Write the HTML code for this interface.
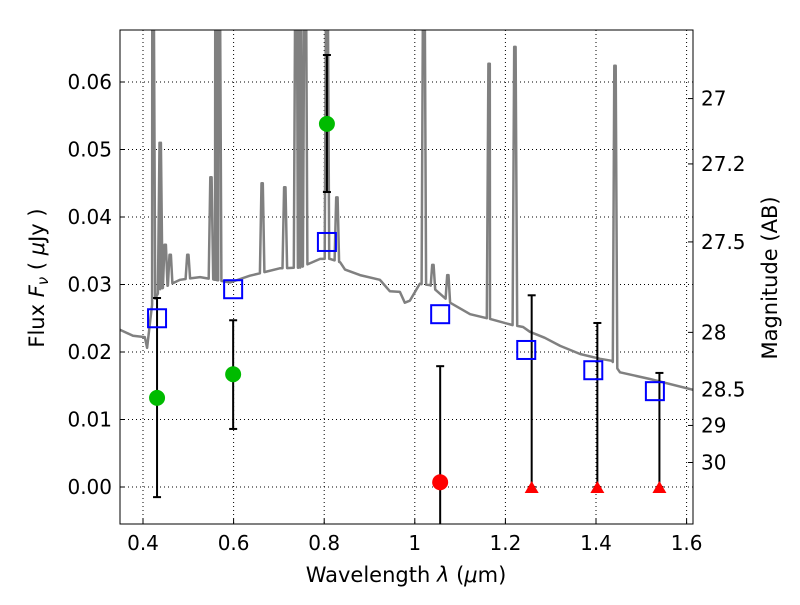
<!DOCTYPE html>
<html><head><meta charset="utf-8"><style>
body{margin:0;background:#fff}
svg{font-family:"DejaVu Sans","Liberation Sans",sans-serif}
</style></head><body>
<svg id="c" width="800" height="600" xmlns="http://www.w3.org/2000/svg"></svg>
<script>
const contLam=[0.349,0.378,0.404,0.409,0.420,0.438,0.482,0.526,0.559,0.592,0.636,0.702,0.747,0.791,0.813,0.835,0.846,0.879,0.923,0.945,0.967,0.978,0.989,1.011,1.034,1.078,1.122,1.166,1.215,1.239,1.254,1.287,1.321,1.365,1.409,1.435,1.453,1.519,1.614,1.63];
const contFlux=[0.0233,0.0224,0.0222,0.0206,0.027,0.0293,0.0307,0.0311,0.0307,0.0303,0.0313,0.0324,0.0325,0.0338,0.0338,0.0333,0.0322,0.0314,0.0307,0.0290,0.0289,0.0273,0.0276,0.0301,0.0299,0.0273,0.0256,0.0249,0.0240,0.0237,0.0230,0.0221,0.0209,0.0197,0.0190,0.0187,0.0170,0.0160,0.0144,0.0142];
const lineLam=[0.422,0.438,0.449,0.460,0.499,0.550,0.561,0.568,0.663,0.713,0.738,0.747,0.758,0.806,0.828,1.020,1.040,1.073,1.164,1.221,1.442];
const linePeak=[0.08,0.0510,0.0359,0.0344,0.0344,0.0459,0.08,0.08,0.0450,0.0444,0.08,0.08,0.08,0.08,0.0429,0.08,0.0329,0.0314,0.0627,0.0652,0.0624];
const modelLam=[0.431,0.599,0.806,1.056,1.246,1.394,1.530];
const modelFlux=[0.0250,0.0293,0.0363,0.0256,0.0203,0.0173,0.0142];
const detLam=[0.431,0.599,0.806];
const detFlux=[0.0132,0.0167,0.0538];
const detHi=[0.0280,0.0247,0.0640];
const detLo=[-0.0015,0.0086,0.0437];
const redLam=[1.056];const redFlux=[0.0007];const redHi=[0.0179];const redLo=[-0.017];
const limLam=[1.258,1.403,1.540];const limFlux=[0,0,0];const limHi=[0.0284,0.0243,0.0169];
const yTicks=[0,0.01,0.02,0.03,0.04,0.05,0.06];
const xTicks=[0.4,0.6,0.8,1.0,1.2,1.4,1.6];
const xTickLabels=["0.4","0.6","0.8","1","1.2","1.4","1.6"];
const magTicks=[27,27.2,27.5,28,28.5,29,30];

const L=120,R=693,T=30,B=524;
const X=v=>143+(v-0.4)*453;
const Y=v=>487-v*6750;
const svg=document.getElementById('c');
const NS="http://www.w3.org/2000/svg";
function el(tag,attrs,parent){const e=document.createElementNS(NS,tag);for(const k in attrs)e.setAttribute(k,attrs[k]);(parent||svg).appendChild(e);return e;}
const defs=el('defs',{});
const cp=el('clipPath',{id:'pc'},defs);el('rect',{x:L,y:T,width:R-L,height:B-T},cp);
xTicks.forEach((t,i)=>{const g=el('line',{x1:X(t),x2:X(t),y1:T,y2:B,stroke:'#000','stroke-dasharray':'1,3','stroke-width':1});

const tk=el('line',{x1:X(t),x2:X(t),y1:B,y2:B-5,stroke:'#000'});
const tx=el('text',{x:X(t),y:550,'font-size':20,'text-anchor':'middle'});tx.textContent=xTickLabels[i];
});
yTicks.forEach(t=>{const g=el('line',{x1:L,x2:R,y1:Y(t),y2:Y(t),stroke:'#000','stroke-dasharray':'1,3','stroke-width':1});

const tk=el('line',{x1:L,x2:L+5,y1:Y(t),y2:Y(t),stroke:'#000'});
const tx=el('text',{x:112,y:Y(t)+7,'font-size':20,'text-anchor':'end'});tx.textContent=t.toFixed(2);
});
magTicks.forEach(m=>{const f=Math.pow(10,(23.9-m)/2.5);const y=Y(f);
const tk=el('line',{x1:R,x2:R-5,y1:y,y2:y,stroke:'#000'});
const tx=el('text',{x:701,y:y+7,'font-size':20});tx.textContent=String(m);
});
const pts=contLam.map((l,i)=>[l,contFlux[i]]);
function contAt(l){for(let i=0;i<contLam.length-1;i++){if(l>=contLam[i]&&l<=contLam[i+1]){const t=(l-contLam[i])/(contLam[i+1]-contLam[i]);return contFlux[i]+t*(contFlux[i+1]-contFlux[i]);}}return contFlux[contFlux.length-1];}
lineLam.forEach((l,i)=>{pts.push([l-0.005,contAt(l-0.005)]);pts.push([l-0.0015,linePeak[i]]);pts.push([l+0.0015,linePeak[i]]);pts.push([l+0.005,contAt(l+0.005)]);});
pts.sort((a,b)=>a[0]-b[0]);
const sp=el('path',{d:'M'+pts.map(p=>X(p[0]).toFixed(1)+','+Y(p[1]).toFixed(1)).join('L'),fill:'none',stroke:'#808080','stroke-width':2.5,'stroke-linejoin':'round','clip-path':'url(#pc)'});

const gp=el('g',{'clip-path':'url(#pc)'});
function err(l,hi,lo,name){const x=X(l);const a=el('line',{x1:x,x2:x,y1:Y(hi),y2:Y(lo),stroke:'#000','stroke-width':2},gp);
[hi,lo].forEach(v=>{const c=el('line',{x1:x-4,x2:x+4,y1:Y(v),y2:Y(v),stroke:'#000','stroke-width':2},gp);});}
detLam.forEach((l,i)=>err(l,detHi[i],detLo[i],'error-bar'));
redLam.forEach((l,i)=>err(l,redHi[i],redLo[i],'error-bar'));
limLam.forEach((l,i)=>err(l,limHi[i],limFlux[i],'upper-limit-bar'));
modelLam.forEach((l,i)=>{const r=el('rect',{x:X(l)-9,y:Y(modelFlux[i])-9,width:18,height:18,fill:'none',stroke:'#0000ff','stroke-width':2},gp);
});
detLam.forEach((l,i)=>{const c=el('circle',{cx:X(l),cy:Y(detFlux[i]),r:8,fill:'#00bb00'},gp);});
redLam.forEach((l,i)=>{const c=el('circle',{cx:X(l),cy:Y(redFlux[i]),r:8,fill:'#ff0000'},gp);});
limLam.forEach((l,i)=>{const x=X(l),y=Y(limFlux[i]);const p=el('polygon',{points:`${x-7},${y+6} ${x+7},${y+6} ${x},${y-6}`,fill:'#ff0000'},gp);});
const fr=el('rect',{x:L,y:T,width:R-L,height:B-T,fill:'none',stroke:'#000','stroke-width':1});

</script>
<svg width="800" height="600" style="position:absolute;left:0;top:0">
<text x="406" y="582" font-size="21" text-anchor="middle" font-family="DejaVu Sans,sans-serif">Wavelength  <tspan font-style="italic">λ</tspan> (<tspan font-style="italic">μ</tspan>m)</text>
<text transform="translate(44,278) rotate(-90)" font-size="21" text-anchor="middle" font-family="DejaVu Sans,sans-serif">Flux  <tspan font-style="italic">F</tspan><tspan font-style="italic" font-size="15" dy="4">ν</tspan><tspan dy="-4">  ( <tspan font-style="italic">μ</tspan>Jy )</tspan></text>
<text transform="translate(777,278) rotate(-90)" font-size="21" text-anchor="middle" font-family="DejaVu Sans,sans-serif">Magnitude (AB)</text>
</svg>
</body></html>
